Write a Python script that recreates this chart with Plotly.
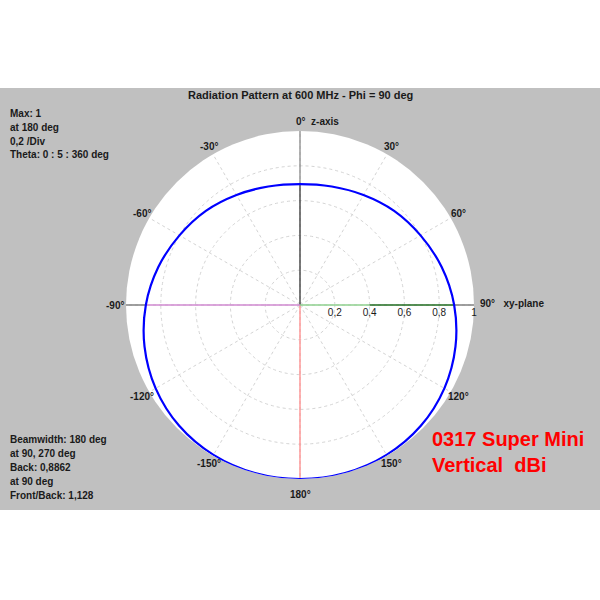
import numpy as np
import plotly.graph_objects as go

# pattern (theta in deg, gain normalised to max 1)
theta_deg = [-180, -165, -150, -135, -120, -105, -90, -75, -60, -45, -30, -15,
             0, 15, 30, 45, 60, 75, 90, 105, 120, 135, 150, 165, 180]
gain = [1.0, 1.0, 0.995, 0.982, 0.958, 0.925, 0.886, 0.843, 0.80, 0.765, 0.73, 0.705,
        0.695, 0.705, 0.73, 0.765, 0.80, 0.843, 0.886, 0.925, 0.958, 0.982, 0.995, 1.0, 1.0]

radial_ticks = [0.2, 0.4, 0.6, 0.8, 1.0]
radial_text = ["0,2", "0,4", "0,6", "0,8", "1"]

angle_ticks = [0, 30, 60, 90, 120, 150, 180, -150, -120, -90, -60, -30]
angle_text = ["0°  z-axis", "30°", "60°", "90°   xy-plane", "120°", "150°", "180°",
              "-150°", "-120°", "-90°", "-60°", "-30°"]

info_top = ["Max: 1", "at 180 deg", "0,2 /Div", "Theta: 0 : 5 : 360 deg"]
info_bottom = ["Beamwidth: 180 deg", "at 90, 270 deg", "Back: 0,8862", "at 90 deg",
               "Front/Back: 1,128"]

W = H = 600
CX, CY, R = 300, 305, 174  # polar centre / radius in px
FONT = "Liberation Sans"
TXT = "#1a1a1a"
GRID = "#d4d4d4"

fig = go.Figure()

# axis lines through the centre
axis_lines = [
    ([0, 0], [0, 0.695], "#333333"),
    ([0, 0], [0.695, 1.0], "#8a8a8a"),
    ([180, 180], [0, 1.0], "#ff8a8a"),
    ([-90, -90], [0, 0.886], "#d08ad0"),
    ([-90, -90], [0.886, 1.0], "#808080"),
    ([90, 90], [0, 0.4], "#8fd08f"),
    ([90, 90], [0.4, 0.886], "#1f6b1f"),
    ([90, 90], [0.886, 1.0], "#808080"),
]
for th, rr, col in axis_lines:
    fig.add_trace(go.Scatterpolar(theta=th, r=rr, mode="lines",
                                  line=dict(color=col, width=1.3),
                                  hoverinfo="skip", showlegend=False))

fig.add_trace(go.Scatterpolar(
    theta=theta_deg, r=gain, mode="lines",
    line=dict(color="#0000ff", width=2.2, shape="spline"),
    showlegend=False,
))

# grey panel behind the chart
fig.add_shape(type="rect", xref="paper", yref="paper", x0=0, x1=1,
              y0=1 - 510 / H, y1=1 - 88 / H, fillcolor="#c0c0c0",
              line=dict(width=0), layer="below")

# angular labels placed round the rim
for a, t in zip(angle_ticks, angle_text):
    rad = np.deg2rad(a)
    if a == 0:
        x, y, anchor = CX - 6, CY - R - 10, "left"
    elif a == 90:
        x, y, anchor = CX + R + 4, CY - 2, "left"
    else:
        rr = 1.065 if abs(a) in (90, 180) else 1.05
        x = CX + rr * R * np.sin(rad)
        y = CY - rr * R * np.cos(rad)
        if a == 180:
            y += 4
        anchor = "center"
    fig.add_annotation(x=x / W, y=1 - y / H, xref="paper", yref="paper",
                       text=f"<b>{t}</b>", showarrow=False, xanchor=anchor,
                       yanchor="middle", font=dict(size=10, color=TXT, family=FONT))

for i, t in enumerate(info_top):
    fig.add_annotation(x=8 / W, y=1 - (113 + 14 * i) / H, xref="paper", yref="paper",
                       text=f"<b>{t}</b>", showarrow=False, xanchor="left",
                       yanchor="middle", font=dict(size=10, color=TXT, family=FONT))
for i, t in enumerate(info_bottom):
    fig.add_annotation(x=8 / W, y=1 - (439 + 14 * i) / H, xref="paper", yref="paper",
                       text=f"<b>{t}</b>", showarrow=False, xanchor="left",
                       yanchor="middle", font=dict(size=10, color=TXT, family=FONT))

fig.add_annotation(x=0.5, y=1 - 95 / H, xref="paper", yref="paper",
                   text="<b>Radiation Pattern at 600 MHz - Phi = 90 deg</b>",
                   showarrow=False, xanchor="center", yanchor="middle",
                   font=dict(size=11, color=TXT, family=FONT))
fig.add_annotation(x=430 / W, y=1 - 452 / H, xref="paper", yref="paper",
                   text="<b>0317 Super Mini<br>Vertical  dBi</b>",
                   showarrow=False, xanchor="left", yanchor="middle", align="left",
                   font=dict(size=20, color="#ff0000", family=FONT))

fig.update_layout(
    width=W, height=H,
    margin=dict(l=0, r=0, t=0, b=0),
    paper_bgcolor="white",
    showlegend=False,
    polar=dict(
        domain=dict(x=[(CX - R) / W, (CX + R) / W],
                    y=[(H - CY - R) / H, (H - CY + R) / H]),
        bgcolor="white",
        radialaxis=dict(range=[0, 1], tickvals=radial_ticks, ticktext=radial_text,
                        angle=0, side="clockwise", showline=False, ticks="",
                        gridcolor=GRID, griddash="3px,3px", gridwidth=1,
                        tickfont=dict(size=10, color=TXT, family=FONT)),
        angularaxis=dict(rotation=90, direction="clockwise", tickmode="array",
                         tickvals=[0, 30, 60, 90, 120, 150, 180, 210, 240, 270, 300, 330],
                         showticklabels=False, ticks="", showline=False,
                         gridcolor=GRID, griddash="3px,3px", gridwidth=1),
    ),
)

# drop the browser's default body margin so the 600px figure fits the window
fig.write_html("out.html", config={"displayModeBar": False},
               post_script="document.body.style.margin='0';")
